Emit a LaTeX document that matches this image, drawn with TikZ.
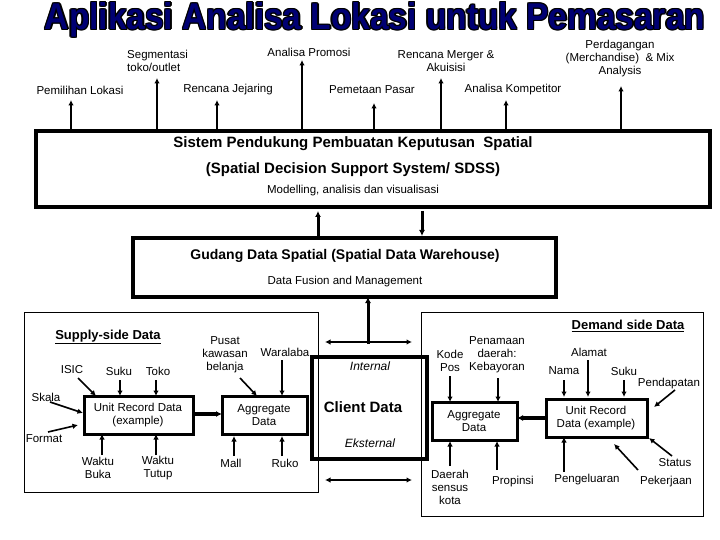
\documentclass[tikz,border=0pt]{standalone}
\usepackage{fontspec}
\setmainfont{Liberation Sans}
\usetikzlibrary{arrows.meta}
\newcommand{\mytitle}{\resizebox{660pt}{27pt}{\bfseries Aplikasi Analisa Lokasi untuk Pemasaran}}
\begin{document}
\begin{tikzpicture}[x=1pt,y=-1pt,
  lab/.style={font=\fontsize{11.5}{13}\selectfont,align=center,inner sep=0pt},
  arr/.style={line width=1.6pt,-{Latex[length=5.5pt,width=5.5pt]}},
  big/.style={line width=3.5pt},
  mid/.style={line width=3pt},
  thin/.style={line width=0.8pt}]
\useasboundingbox (0,0) rectangle (720,540);
% title with outline
\foreach \dx/\dy in {-1/-1,1/-1,-1/1,1/1,0/-1.3,0/1.3,-1.3/0,1.3/0}
  \node[inner sep=0pt,text=black] at (375+\dx,20+\dy) {\mytitle};
\node[inner sep=0pt,text=blue!45!black] (title) at (375,20) {\mytitle};
% SDSS
\draw[big] (36,131) rectangle (710,207);
\node[font=\fontsize{15}{17}\selectfont\bfseries] (s1) at (353,144) {Sistem Pendukung Pembuatan Keputusan \ Spatial};
\node[font=\fontsize{15}{17}\selectfont\bfseries] (s2) at (353,170) {(Spatial Decision Support System/ SDSS)};
\node[lab] (s3) at (353,191) {Modelling, analisis dan visualisasi};
% top labels
\node[lab] (l1) at (80,90) {Pemilihan Lokasi};
\node[lab,align=left,anchor=west] (l2) at (127,61) {Segmentasi\\toko/outlet};
\node[lab] (l3) at (228,90) {Rencana Jejaring};
\node[lab] (l4) at (309,52) {Analisa Promosi};
\node[lab] (l5) at (372,90) {Pemetaan Pasar};
\node[lab] (l6) at (446,61) {Rencana Merger \&\\Akuisisi};
\node[lab] (l7) at (513,90) {Analisa Kompetitor};
\node[lab] (l8) at (620,59) {Perdagangan\\(Merchandise) \ \& Mix\\Analysis};
\foreach \x/\t in {71/100,157/78,217/100,302/60,374/103,441/78,506/100,621/86}
  \draw[arr] (\x,131) -- (\x,\t);
% Gudang
\draw[big] (133,238) rectangle (556,297);
\node[font=\fontsize{14}{16}\selectfont\bfseries] (g1) at (345,256) {Gudang Data Spatial (Spatial Data Warehouse)};
\node[lab] (g2) at (345,282) {Data Fusion and Management};
\draw[mid,-{Latex[length=6pt,width=6pt]}] (318,236) -- (318,211);
\draw[mid,-{Latex[length=6pt,width=6pt]}] (422,211) -- (422,236);
% supply box
\draw[thin] (24,312) rectangle (318,492);
\node[font=\fontsize{13}{15}\selectfont\bfseries] (sup) at (108,337) {\underline{Supply-side Data}};
\draw[mid] (84,396) rectangle (193,434);
\node[lab] (urd1) at (138,415) {Unit Record Data\\(example)};
\draw[mid] (222,396) rectangle (307,434);
\node[lab] (agg1) at (264,415) {Aggregate\\Data};
\draw[line width=4pt,-{Latex[length=6pt,width=6pt]}] (193,414) -- (222,414);
\node[lab] (isic) at (72,370) {ISIC};
\draw[arr] (78,378) -- (96,396);
\node[lab] (suku) at (119,371) {Suku};
\draw[arr] (120,380) -- (120,396);
\node[lab] (toko) at (158,371) {Toko};
\draw[arr] (156,380) -- (156,396);
\node[lab] (skala) at (46,397) {Skala};
\draw[arr] (50,402) -- (83,413);
\node[lab] (fmt) at (44,439) {Format};
\draw[arr] (48,432) -- (78,425);
\node[lab] (wb) at (98,468) {Waktu\\Buka};
\draw[arr] (102,455) -- (102,434);
\node[lab] (wt) at (158,468) {Waktu\\Tutup};
\draw[arr] (156,455) -- (156,434);
\node[lab] (pusat) at (225,355) {Pusat\\kawasan\\belanja};
\draw[arr] (240,378) -- (257,396);
\node[lab] (wara) at (285,352) {Waralaba};
\draw[arr] (282,360) -- (282,396);
\node[lab] (mall) at (231,463) {Mall};
\draw[arr] (234,456) -- (234,436);
\node[lab] (ruko) at (285,463) {Ruko};
\draw[arr] (282,456) -- (282,436);
% client
\draw[big] (312,357) rectangle (427,459);
\node[font=\fontsize{12}{14}\selectfont\itshape] (int) at (370,366) {Internal};
\node[font=\fontsize{15}{17}\selectfont\bfseries] (cd) at (363,407) {Client Data};
\node[font=\fontsize{12}{14}\selectfont\itshape] (eks) at (370,443) {Eksternal};
\draw[mid,-{Latex[length=6pt,width=6pt]}] (368,344) -- (368,297);
\draw[line width=1.6pt,{Latex[length=5.5pt,width=5.5pt]}-{Latex[length=5.5pt,width=5.5pt]}] (325,342) -- (412,342);
\draw[line width=1.6pt,{Latex[length=5.5pt,width=5.5pt]}-{Latex[length=5.5pt,width=5.5pt]}] (325,480) -- (412,480);
% demand box
\draw[thin] (421,312) rectangle (703,516);
\node[font=\fontsize{13}{15}\selectfont\bfseries] (dem) at (628,326) {\underline{Demand side Data}};
\draw[mid] (432,402) rectangle (517,440);
\node[lab] (agg2) at (474,421) {Aggregate\\Data};
\draw[mid] (546,399) rectangle (647,437);
\node[lab] (urd2) at (596,418) {Unit Record\\Data (example)};
\draw[line width=4pt,-{Latex[length=6pt,width=6pt]}] (546,418) -- (517,418);
\node[lab] (kode) at (450,361) {Kode\\Pos};
\draw[arr] (450,376) -- (450,402);
\node[lab] (pen) at (497,355) {Penamaan\\daerah:\\Kebayoran};
\draw[arr] (498,378) -- (498,402);
\node[lab] (alamat) at (589,352) {Alamat};
\draw[arr] (588,360) -- (588,397);
\node[lab] (nama) at (564,371) {Nama};
\draw[arr] (564,380) -- (564,397);
\node[lab] (suku2) at (624,371) {Suku};
\draw[arr] (624,380) -- (624,397);
\node[lab] (pend) at (669,384) {Pendapatan};
\draw[arr] (675,390) -- (654,407);
\node[lab] (status) at (675,463) {Status};
\draw[arr] (672,456) -- (649,438);
\node[lab] (pek) at (666,482) {Pekerjaan};
\draw[arr] (638,470) -- (614,444);
\node[lab] (peng) at (587,480) {Pengeluaran};
\draw[arr] (564,472) -- (564,437);
\node[lab] (prop) at (513,482) {Propinsi};
\draw[arr] (497,470) -- (497,441);
\node[lab] (dsk) at (450,487) {Daerah\\sensus\\kota};
\draw[arr] (450,466) -- (450,441);
\end{tikzpicture}
\end{document}
